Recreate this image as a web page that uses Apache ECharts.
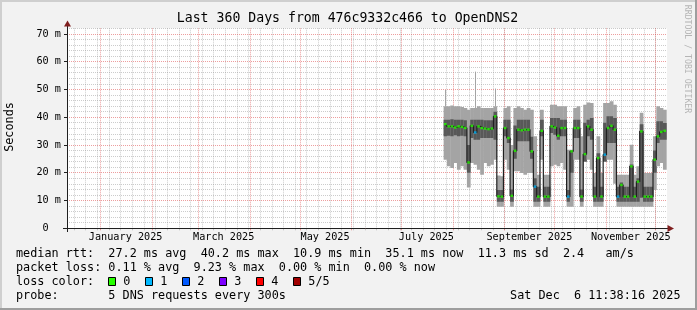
<!DOCTYPE html>
<html><head><meta charset="utf-8">
<script src="https://cdn.jsdelivr.net/npm/echarts@6/dist/echarts.min.js"></script>
<style>html,body{margin:0;padding:0;background:#f2f2f2}#c{width:697px;height:310px}</style>
</head><body><div id="c"></div>
<script>
// ---- data, values in ms ----
const binDates = ['2025-07-27','2025-07-29','2025-07-31','2025-08-02','2025-08-04','2025-08-06','2025-08-08','2025-08-10','2025-08-12','2025-08-14',
  '2025-08-16','2025-08-18','2025-08-20','2025-08-22','2025-08-24','2025-08-26','2025-08-28','2025-08-30','2025-09-01','2025-09-03',
  '2025-09-05','2025-09-07','2025-09-09','2025-09-11','2025-09-13','2025-09-15','2025-09-17','2025-09-19','2025-09-21','2025-09-23',
  '2025-09-25','2025-09-27','2025-09-29','2025-10-01','2025-10-03','2025-10-05','2025-10-07','2025-10-09','2025-10-11','2025-10-13',
  '2025-10-15','2025-10-17','2025-10-19','2025-10-21','2025-10-23','2025-10-25','2025-10-27','2025-10-29','2025-10-31','2025-11-02',
  '2025-11-04','2025-11-06','2025-11-08','2025-11-10','2025-11-12','2025-11-14','2025-11-16','2025-11-18','2025-11-20','2025-11-22',
  '2025-11-24','2025-11-26','2025-11-28','2025-11-30','2025-12-02','2025-12-04','2025-12-06'];
const smokeLow = [24.7,22.3,21.7,23.5,21.1,22.3,21.1,14.7,23.5,22.9, 21.1,19.3,23.5,22.3,22.9,24.7,7.8,7.8,24.7,21.1,
  7.8,20.5,20.5,19.9,19.3,19.9,19.9,7.8,7.8,24.7, 7.8,7.8,22.3,22.9,22.3,23.5,21.1,7.8,7.8,24.7,
  24.7,7.8,24.7,24.7,21.1,7.8,7.8,7.8,24.7,24.7, 24.7,16.0,7.8,7.8,7.8,7.8,7.8,7.8,7.8,7.8,
  7.8,7.8,7.8,13.8,22.3,23.5,21.1];
const smokeHigh = [43.9,43.9,44.2,43.9,43.9,43.7,43.3,42.7,43.3,43.3, 43.9,43.3,43.3,43.3,43.3,43.9,19.0,18.7,43.3,43.9,
  30.0,43.3,43.9,43.3,42.7,43.3,42.7,33.1,19.3,42.7, 19.3,19.3,44.5,44.5,43.9,43.9,43.9,28.3,28.3,43.3,
  43.9,33.1,44.5,45.3,45.1,19.9,33.1,19.9,45.1,45.1, 45.7,44.5,19.3,19.3,19.3,19.3,30.1,19.3,22.3,41.6,
  19.9,19.9,19.9,33.1,43.9,43.3,42.7];
const coreLow = [33.1,33.3,33.1,33.5,33.1,33.3,33.1,20.0,32.5,31.9, 31.9,32.5,32.5,32.5,32.5,31.9,9.6,9.6,33.1,30.7,
  9.6,25.0,31.3,31.3,31.3,31.3,25.0,9.6,9.6,33.1, 9.6,9.6,34.3,33.7,31.9,33.1,33.1,9.6,20.0,32.5,
  32.5,9.6,24.0,33.1,31.9,9.6,9.6,9.6,24.0,30.7, 30.7,30.7,9.6,9.6,9.6,9.6,9.6,9.6,9.6,11.0,
  9.6,9.6,9.6,20.0,30.7,31.9,31.9];
const coreHigh = [39.1,39.1,39.3,39.1,39.1,39.1,38.9,30.0,39.1,39.1, 39.1,39.1,38.9,38.9,38.9,42.0,13.8,13.8,39.1,39.1,
  14.0,37.0,39.1,39.1,39.1,39.1,33.0,18.0,15.0,39.1, 15.0,15.0,39.7,39.7,39.7,39.1,39.1,13.8,28.0,39.1,
  39.1,14.0,38.0,39.1,39.7,15.0,27.0,15.0,38.0,40.3, 40.3,39.7,15.0,16.5,15.0,15.0,23.0,15.0,18.0,37.5,
  15.0,15.0,15.0,28.0,38.5,38.5,37.9];
const medianRtt = [37.5,36.7,36.7,36.3,36.7,36.5,36.1,23.7,36.9,34.5, 36.7,36.1,35.9,35.7,35.9,40.3,11.5,11.4,36.1,32.5,
  11.7,27.9,35.5,35.3,35.5,35.5,27.7,15.0,11.4,35.1, 11.4,11.4,36.7,36.3,33.3,36.1,36.1,11.4,27.7,36.1,
  36.1,11.4,26.7,36.7,35.5,11.4,25.3,11.4,26.5,36.1, 36.9,35.5,11.4,15.6,11.4,11.4,22.3,11.4,16.8,34.9,
  11.4,11.4,11.4,24.7,33.1,34.7,35.1];
const lossCount = [0,0,0,0,0,0,0,0,0,1, 0,0,0,0,0,0,0,0,0,0, 0,0,0,0,0,0,0,1,0,0, 0,0,0,0,0,0,0,1,0,0,
  0,0,0,0,0,0,0,0,1,0, 0,0,1,0,0,0,0,0,0,0, 0,0,0,0,0,0,0];
const maxRtt = [49.8,0,0,0,0,0,0,0,0,56.4, 0,0,0,0,0,50.3,0,0,0,0, 0,0,0,0,0,0,0,0,0,0, 0,0,0,0,0,0,0,0,0,0,
  0,0,0,0,0,0,0,0,0,0, 0,0,0,0,0,0,0,0,0,0, 0,0,0,0,0,0,0];

const monthStarts = ['2025-01-01','2025-02-01','2025-03-01','2025-04-01','2025-05-01','2025-06-01','2025-07-01','2025-08-01','2025-09-01','2025-10-01','2025-11-01','2025-12-01'];
const labelDates = ['2025-01-16','2025-03-16','2025-05-16','2025-07-16','2025-09-16','2025-11-16'];
const monthLabels = ['January 2025','March 2025','May 2025','July 2025','September 2025','November 2025'];
const yTickValues = [0,10,20,30,40,50,60,70];
const lossColors = ['#26ff00','#00b8ff','#0059ff','#7e00ff','#ff0000','#a10000'];
const lossLabels = ['0','1','2','3','4','5/5'];

const titleText = 'Last 360 Days from 476c9332c466 to OpenDNS2';
const legendRows = [
  'median rtt:  27.2 ms avg  40.2 ms max  10.9 ms min  35.1 ms now  11.3 ms sd  2.4   am/s',
  'packet loss: 0.11 % avg  9.23 % max  0.00 % min  0.00 % now',
  'loss color:',
  'probe:       5 DNS requests every 300s'
];
const dateText = 'Sat Dec  6 11:38:16 2025';

// ---- chart ----
const DAY = 86400000;
const ts = s => Date.parse(s + 'T09:00:00Z');
const t0 = s => Date.parse(s + 'T00:00:00Z');
const xMin = Date.UTC(2024, 11, 11, 17, 15);
const xMax = xMin + 361.08 * DAY;
const weekTicks = [];
for (let t = Date.UTC(2024, 11, 16); t < xMax; t += 7 * DAY) weekTicks.push(t);

const SMOKE_LIGHT = '#a4a4a4', SMOKE_DARK = '#585858';
const MONO = '"DejaVu Sans Mono"';
const GRID_C = 'rgba(143,143,143,0.45)', MGRID_C = 'rgba(222,79,79,0.55)';

const smokeData = binDates.map((d, i) => [ts(d), smokeLow[i], smokeHigh[i], coreLow[i], coreHigh[i], maxRtt[i]]);
const medLine = binDates.map((d, i) => [ts(d), medianRtt[i]]);
const medDots = binDates.map((d, i) => ({ value: [ts(d), medianRtt[i]], itemStyle: { color: lossColors[lossCount[i]] } }));
const labelTimes = labelDates.map(t0);

const chart = echarts.init(document.getElementById('c'), null, { renderer: 'canvas' });

const graphics = [
  { type: 'rect', shape: { x: 0, y: 0, width: 697, height: 2 }, style: { fill: '#cfcfcf' }, silent: true },
  { type: 'rect', shape: { x: 0, y: 0, width: 2, height: 310 }, style: { fill: '#cfcfcf' }, silent: true },
  { type: 'rect', shape: { x: 0, y: 308, width: 697, height: 2 }, style: { fill: '#9e9e9e' }, silent: true },
  { type: 'rect', shape: { x: 695, y: 0, width: 2, height: 310 }, style: { fill: '#9e9e9e' }, silent: true },
  { type: 'text', x: 347.5, y: 19, style: { text: titleText, font: '13.2px ' + MONO, fill: '#000', textAlign: 'center', textVerticalAlign: 'middle' } },
  { type: 'text', x: 10, y: 127, rotation: Math.PI / 2, style: { text: 'Seconds', font: '11.8px ' + MONO, fill: '#000', textAlign: 'center', textVerticalAlign: 'middle' } },
  { type: 'text', x: 687.5, y: 59, rotation: -Math.PI / 2, style: { text: 'RRDTOOL / TOBI OETIKER', font: '8.2px ' + MONO, fill: '#b5b5b5', textAlign: 'center', textVerticalAlign: 'middle' } },
  { type: 'text', x: 680.5, y: 296.3, style: { text: dateText, font: '11.8px ' + MONO, fill: '#000', textAlign: 'right', textVerticalAlign: 'middle' } },
  // axis extensions and arrows
  { type: 'line', shape: { x1: 63, y1: 228.5, x2: 668, y2: 228.5 }, style: { stroke: '#1f1f1f', lineWidth: 1 }, z: 10 },
  { type: 'line', shape: { x1: 67.5, y1: 232, x2: 67.5, y2: 25 }, style: { stroke: '#1f1f1f', lineWidth: 1 }, z: 10 },
  { type: 'polygon', shape: { points: [[64, 26.5], [71, 26.5], [67.5, 20.5]] }, style: { fill: '#801f1f' }, z: 10 },
  { type: 'polygon', shape: { points: [[667.5, 225], [667.5, 232], [674, 228.5]] }, style: { fill: '#801f1f' }, z: 10 }
];
const rowY = [254.3, 268.3, 282, 296.3];
legendRows.forEach((r, i) => graphics.push({ type: 'text', x: 16, y: rowY[i], style: { text: r, font: '11.8px ' + MONO, fill: '#000', textVerticalAlign: 'middle' } }));
lossLabels.forEach((lab, i) => {
  graphics.push({ type: 'rect', shape: { x: 108.5 + 37 * i, y: 277.5, width: 7, height: 8 }, style: { fill: lossColors[i], stroke: '#000', lineWidth: 1 } });
  graphics.push({ type: 'text', x: 123.3 + 37 * i, y: rowY[2], style: { text: lab, font: '11.8px ' + MONO, fill: '#000', textVerticalAlign: 'middle' } });
});

chart.setOption({
  animation: false,
  backgroundColor: '#f2f2f2',
  grid: { left: 67, top: 28.3, width: 600, height: 200, show: true, backgroundColor: '#ffffff', borderWidth: 0, containLabel: false, outerBoundsMode: 'none' },
  xAxis: [{
    type: 'value', min: xMin, max: xMax, z: 1,
    axisLine: { show: false },
    axisTick: { show: true, customValues: monthStarts.map(t0), length: 2, lineStyle: { color: MGRID_C } },
    splitLine: { show: true, lineStyle: { color: MGRID_C, type: [1, 1], width: 1 } },
    axisLabel: { customValues: labelTimes, margin: 4, fontFamily: 'DejaVu Sans Mono', fontSize: 10.2, color: '#000',
      formatter: v => { const k = labelTimes.indexOf(v); return k >= 0 ? monthLabels[k] : ''; } }
  }, {
    type: 'value', min: xMin, max: xMax, position: 'bottom', z: 0,
    axisLine: { show: false },
    axisTick: { show: true, customValues: weekTicks, length: 2, lineStyle: { color: GRID_C } },
    splitLine: { show: true, lineStyle: { color: GRID_C, type: [1, 1], width: 1 } },
    axisLabel: { show: false }
  }],
  yAxis: [{
    type: 'value', min: 0, max: 72, interval: 2, z: 1,
    axisLine: { show: false },
    axisTick: { show: false },
    splitLine: { show: true, lineStyle: { color: [MGRID_C, GRID_C, GRID_C, GRID_C, GRID_C], type: [1, 1], width: 1 } },
    axisLabel: { margin: 6, fontFamily: 'DejaVu Sans Mono', fontSize: 10.2, color: '#000',
      formatter: v => (v % 10 !== 0 ? '' : (v === 0 ? '0  ' : v + ' m')) }
  }, {
    type: 'value', min: 0, max: 72, position: 'left', z: 1,
    axisLine: { show: false }, splitLine: { show: false }, axisLabel: { show: false },
    axisTick: { show: true, customValues: yTickValues, length: 3, lineStyle: { color: '#1f1f1f' } }
  }],
  series: [{
    type: 'custom', xAxisIndex: 0, yAxisIndex: 0, z: 2, silent: true, clip: true,
    encode: { x: 0, y: [1, 2] },
    data: smokeData,
    renderItem: (params, api) => {
      const t = api.value(0);
      const lLo = api.value(1), lHi = api.value(2), dLo = api.value(3), dHi = api.value(4), mx = api.value(5);
      const w = api.size([2 * DAY, 0])[0];
      const cx = api.coord([t, 0])[0];
      const x0 = cx - w / 2;
      const y = v => api.coord([t, v])[1];
      const ch = [];
      if (mx > lHi) ch.push({ type: 'line', shape: { x1: Math.round(cx) + 0.5, y1: y(mx), x2: Math.round(cx) + 0.5, y2: y(lHi) }, style: { stroke: SMOKE_LIGHT, lineWidth: 1 } });
      ch.push({ type: 'rect', shape: { x: x0, y: y(lHi), width: w + 0.4, height: y(lLo) - y(lHi) }, style: { fill: SMOKE_LIGHT } });
      ch.push({ type: 'rect', shape: { x: x0, y: y(dHi), width: w + 0.4, height: y(dLo) - y(dHi) }, style: { fill: SMOKE_DARK } });
      return { type: 'group', children: ch };
    }
  }, {
    type: 'line', xAxisIndex: 0, yAxisIndex: 0, z: 3, silent: true, step: 'middle', showSymbol: false,
    data: medLine, lineStyle: { color: '#202020', width: 1.2 }
  }, {
    type: 'scatter', xAxisIndex: 0, yAxisIndex: 0, z: 4, silent: true,
    symbol: 'rect', symbolSize: [2.6, 2.4], data: medDots
  }],
  graphic: { elements: graphics }
});
</script></body></html>
